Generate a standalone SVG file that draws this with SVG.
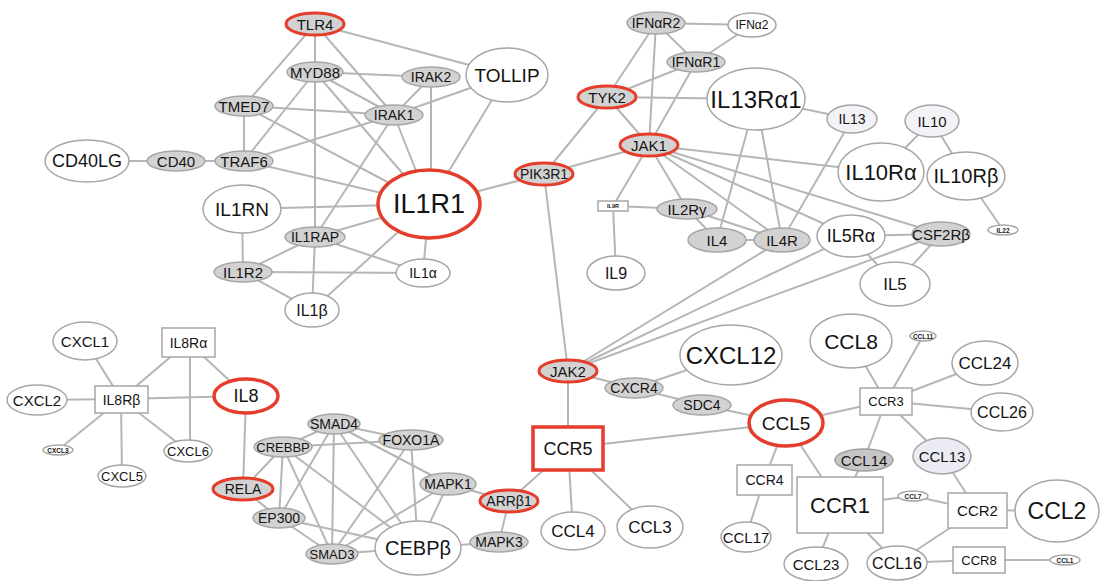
<svg xmlns="http://www.w3.org/2000/svg" width="1100" height="581" viewBox="0 0 1100 581">
<style>
.bg{fill:#fff}
#edges line{stroke:#b6b6b6;stroke-width:2}
.g{fill:#d2d2d2;stroke:#a6a6a6;stroke-width:1.5}
.w{fill:#fff;stroke:#a6a6a6;stroke-width:1.5}
.l{fill:#f3f3f7;stroke:#a6a6a6;stroke-width:1.5}
.lv{fill:#ebebf3;stroke:#a6a6a6;stroke-width:1.5}
.dg{fill:#c6c6c6;stroke:#a0a0a0;stroke-width:1.5}
.r{fill:#d2d2d2;stroke:#e43d2c;stroke-width:3}
.rw{fill:#fff;stroke:#e43d2c;stroke-width:3.5}
text{font-family:"Liberation Sans",Arial,sans-serif;fill:#141414;text-anchor:middle;dominant-baseline:central}
.s5{font-size:5.5px;font-weight:bold}.s6{font-size:6.5px;font-weight:bold}.s12{font-size:12px}.s13{font-size:13px}.s14{font-size:14px}.s15{font-size:15px}.s16{font-size:16px}.s17{font-size:17px}.s18{font-size:18px}.s19{font-size:19px}.s20{font-size:20px}.s21{font-size:21px}.s22{font-size:22px}.s23{font-size:23px}.s24{font-size:24px}.s26{font-size:27px}
</style>
<rect class="bg" x="0" y="0" width="1100" height="581"/>
<g id="edges">
<line x1="315" y1="24" x2="315" y2="72"/>
<line x1="315" y1="72" x2="315" y2="237"/>
<line x1="315" y1="237" x2="312" y2="310"/>
<line x1="315" y1="24" x2="244" y2="106"/>
<line x1="315" y1="24" x2="507" y2="75"/>
<line x1="315" y1="24" x2="394" y2="115"/>
<line x1="244" y1="106" x2="244" y2="161"/>
<line x1="244" y1="106" x2="394" y2="115"/>
<line x1="244" y1="106" x2="429" y2="204"/>
<line x1="244" y1="161" x2="394" y2="115"/>
<line x1="244" y1="161" x2="429" y2="204"/>
<line x1="244" y1="161" x2="176" y2="161"/>
<line x1="176" y1="161" x2="87" y2="161"/>
<line x1="315" y1="72" x2="244" y2="161"/>
<line x1="315" y1="72" x2="431" y2="77"/>
<line x1="315" y1="72" x2="394" y2="115"/>
<line x1="315" y1="72" x2="429" y2="204"/>
<line x1="394" y1="115" x2="429" y2="204"/>
<line x1="431" y1="77" x2="394" y2="115"/>
<line x1="431" y1="77" x2="431" y2="204"/>
<line x1="394" y1="115" x2="507" y2="75"/>
<line x1="507" y1="75" x2="429" y2="204"/>
<line x1="394" y1="115" x2="315" y2="237"/>
<line x1="242" y1="209" x2="429" y2="204"/>
<line x1="242" y1="209" x2="243" y2="272"/>
<line x1="315" y1="237" x2="429" y2="204"/>
<line x1="315" y1="237" x2="243" y2="272"/>
<line x1="315" y1="237" x2="423" y2="273"/>
<line x1="243" y1="272" x2="423" y2="273"/>
<line x1="243" y1="272" x2="312" y2="310"/>
<line x1="312" y1="310" x2="429" y2="204"/>
<line x1="423" y1="273" x2="429" y2="204"/>
<line x1="429" y1="204" x2="544" y2="174"/>
<line x1="544" y1="174" x2="607" y2="97"/>
<line x1="544" y1="174" x2="649" y2="145"/>
<line x1="544" y1="174" x2="568" y2="371"/>
<line x1="607" y1="97" x2="656" y2="23"/>
<line x1="607" y1="97" x2="696" y2="62"/>
<line x1="607" y1="97" x2="756" y2="99"/>
<line x1="607" y1="97" x2="649" y2="145"/>
<line x1="656" y1="23" x2="649" y2="145"/>
<line x1="656" y1="23" x2="696" y2="62"/>
<line x1="656" y1="23" x2="752" y2="25"/>
<line x1="696" y1="62" x2="752" y2="25"/>
<line x1="696" y1="62" x2="649" y2="145"/>
<line x1="649" y1="145" x2="881" y2="172"/>
<line x1="649" y1="145" x2="941" y2="234"/>
<line x1="649" y1="145" x2="851" y2="236"/>
<line x1="649" y1="145" x2="782" y2="240"/>
<line x1="649" y1="145" x2="687" y2="209"/>
<line x1="649" y1="145" x2="613" y2="206"/>
<line x1="756" y1="99" x2="852" y2="119"/>
<line x1="756" y1="99" x2="717" y2="240"/>
<line x1="756" y1="99" x2="782" y2="240"/>
<line x1="852" y1="119" x2="782" y2="240"/>
<line x1="932" y1="121" x2="881" y2="172"/>
<line x1="932" y1="121" x2="966" y2="176"/>
<line x1="966" y1="176" x2="1003" y2="230"/>
<line x1="613" y1="206" x2="687" y2="209"/>
<line x1="613" y1="206" x2="616" y2="273"/>
<line x1="687" y1="209" x2="717" y2="240"/>
<line x1="687" y1="209" x2="782" y2="240"/>
<line x1="717" y1="240" x2="782" y2="240"/>
<line x1="851" y1="236" x2="941" y2="234"/>
<line x1="851" y1="236" x2="895" y2="284"/>
<line x1="941" y1="234" x2="895" y2="284"/>
<line x1="568" y1="371" x2="782" y2="240"/>
<line x1="568" y1="371" x2="851" y2="236"/>
<line x1="568" y1="371" x2="941" y2="234"/>
<line x1="568" y1="371" x2="634" y2="388"/>
<line x1="568" y1="371" x2="568" y2="448"/>
<line x1="634" y1="388" x2="731" y2="355"/>
<line x1="634" y1="388" x2="702" y2="405"/>
<line x1="702" y1="405" x2="786" y2="423"/>
<line x1="568" y1="448" x2="786" y2="423"/>
<line x1="568" y1="448" x2="509" y2="501"/>
<line x1="568" y1="448" x2="573" y2="531"/>
<line x1="568" y1="448" x2="650" y2="527"/>
<line x1="509" y1="501" x2="448" y2="484"/>
<line x1="509" y1="501" x2="499" y2="542"/>
<line x1="499" y1="542" x2="418" y2="548"/>
<line x1="448" y1="484" x2="418" y2="548"/>
<line x1="334" y1="424" x2="448" y2="484"/>
<line x1="411" y1="440" x2="418" y2="548"/>
<line x1="411" y1="440" x2="332" y2="554"/>
<line x1="411" y1="440" x2="283" y2="447"/>
<line x1="334" y1="424" x2="411" y2="440"/>
<line x1="334" y1="424" x2="283" y2="447"/>
<line x1="334" y1="424" x2="279" y2="518"/>
<line x1="334" y1="424" x2="332" y2="554"/>
<line x1="334" y1="424" x2="418" y2="548"/>
<line x1="283" y1="447" x2="243" y2="489"/>
<line x1="283" y1="447" x2="279" y2="518"/>
<line x1="283" y1="447" x2="332" y2="554"/>
<line x1="283" y1="447" x2="418" y2="548"/>
<line x1="243" y1="489" x2="279" y2="518"/>
<line x1="243" y1="489" x2="246" y2="396"/>
<line x1="279" y1="518" x2="332" y2="554"/>
<line x1="279" y1="518" x2="418" y2="548"/>
<line x1="332" y1="554" x2="418" y2="548"/>
<line x1="332" y1="554" x2="448" y2="484"/>
<line x1="246" y1="396" x2="121" y2="399"/>
<line x1="246" y1="396" x2="188" y2="342"/>
<line x1="188" y1="342" x2="121" y2="399"/>
<line x1="190" y1="342" x2="190" y2="451"/>
<line x1="121" y1="399" x2="85" y2="341"/>
<line x1="121" y1="399" x2="37" y2="400"/>
<line x1="121" y1="399" x2="58" y2="450"/>
<line x1="121" y1="399" x2="122" y2="476"/>
<line x1="121" y1="399" x2="188" y2="451"/>
<line x1="786" y1="423" x2="886" y2="401"/>
<line x1="786" y1="423" x2="764" y2="480"/>
<line x1="786" y1="423" x2="840" y2="505"/>
<line x1="886" y1="401" x2="851" y2="341"/>
<line x1="886" y1="401" x2="923" y2="336"/>
<line x1="886" y1="401" x2="985" y2="363"/>
<line x1="886" y1="401" x2="1002" y2="412"/>
<line x1="886" y1="401" x2="864" y2="460"/>
<line x1="886" y1="401" x2="942" y2="456"/>
<line x1="864" y1="460" x2="840" y2="505"/>
<line x1="942" y1="456" x2="977" y2="510"/>
<line x1="840" y1="505" x2="913" y2="496"/>
<line x1="913" y1="496" x2="977" y2="510"/>
<line x1="977" y1="510" x2="1057" y2="511"/>
<line x1="977" y1="510" x2="897" y2="563"/>
<line x1="840" y1="505" x2="816" y2="564"/>
<line x1="840" y1="505" x2="897" y2="563"/>
<line x1="764" y1="480" x2="746" y2="537"/>
<line x1="897" y1="563" x2="979" y2="560"/>
<line x1="979" y1="560" x2="1065" y2="560"/>
</g>
<g id="TLR4"><ellipse class="r" cx="315" cy="24" rx="29" ry="11"/><text class="s15" x="315" y="24">TLR4</text></g>
<g id="MYD88"><ellipse class="g" cx="315" cy="72" rx="28" ry="10"/><text class="s15" x="315" y="72">MYD88</text></g>
<g id="TMED7"><ellipse class="g" cx="244" cy="106" rx="29" ry="10"/><text class="s15" x="244" y="106">TMED7</text></g>
<g id="TRAF6"><ellipse class="g" cx="244" cy="161" rx="29" ry="10"/><text class="s15" x="244" y="161">TRAF6</text></g>
<g id="CD40"><ellipse class="g" cx="176" cy="161" rx="29" ry="10"/><text class="s15" x="176" y="161">CD40</text></g>
<g id="CD40LG"><ellipse class="w" cx="87" cy="161" rx="42" ry="21"/><text class="s18" x="87" y="161">CD40LG</text></g>
<g id="IRAK2"><ellipse class="g" cx="431" cy="77" rx="29" ry="10"/><text class="s14" x="431" y="77">IRAK2</text></g>
<g id="TOLLIP"><ellipse class="w" cx="507" cy="75" rx="41" ry="27"/><text class="s19" x="507" y="75">TOLLIP</text></g>
<g id="IRAK1"><ellipse class="g" cx="394" cy="115" rx="29" ry="10"/><text class="s14" x="394" y="115">IRAK1</text></g>
<g id="IL1R1"><ellipse class="rw" cx="429" cy="204" rx="51" ry="34"/><text class="s26" x="429" y="204">IL1R1</text></g>
<g id="IL1RN"><ellipse class="w" cx="242" cy="209" rx="39" ry="24"/><text class="s19" x="242" y="209">IL1RN</text></g>
<g id="IL1RAP"><ellipse class="g" cx="315" cy="237" rx="30" ry="10"/><text class="s14" x="315" y="237">IL1RAP</text></g>
<g id="IL1R2"><ellipse class="g" cx="243" cy="272" rx="29" ry="10"/><text class="s15" x="243" y="272">IL1R2</text></g>
<g id="IL1b"><ellipse class="w" cx="312" cy="310" rx="27" ry="17"/><text class="s16" x="312" y="310">IL1β</text></g>
<g id="IL1a"><ellipse class="w" cx="423" cy="273" rx="27" ry="14"/><text class="s14" x="423" y="273">IL1α</text></g>
<g id="PIK3R1"><ellipse class="r" cx="544" cy="174" rx="29" ry="11"/><text class="s14" x="544" y="174">PIK3R1</text></g>
<g id="TYK2"><ellipse class="r" cx="607" cy="97" rx="29" ry="11"/><text class="s15" x="607" y="97">TYK2</text></g>
<g id="JAK1"><ellipse class="r" cx="649" cy="145" rx="29" ry="11"/><text class="s15" x="649" y="145">JAK1</text></g>
<g id="IFNaR2"><ellipse class="g" cx="656" cy="23" rx="29" ry="11"/><text class="s14" x="656" y="23">IFNαR2</text></g>
<g id="IFNaR1"><ellipse class="g" cx="696" cy="62" rx="29" ry="10"/><text class="s14" x="696" y="62">IFNαR1</text></g>
<g id="IFNa2"><ellipse class="w" cx="752" cy="25" rx="24" ry="12"/><text class="s12" x="752" y="25">IFNα2</text></g>
<g id="IL13Ra1"><ellipse class="w" cx="756" cy="99" rx="49" ry="31"/><text class="s24" x="756" y="99">IL13Rα1</text></g>
<g id="IL13"><ellipse class="l" cx="852" cy="119" rx="25" ry="14"/><text class="s14" x="852" y="119">IL13</text></g>
<g id="IL10"><ellipse class="l" cx="932" cy="121" rx="27" ry="16"/><text class="s15" x="932" y="121">IL10</text></g>
<g id="IL10Ra"><ellipse class="w" cx="881" cy="172" rx="43" ry="29"/><text class="s22" x="881" y="172">IL10Rα</text></g>
<g id="IL10Rb"><ellipse class="w" cx="966" cy="176" rx="39" ry="24"/><text class="s20" x="966" y="176">IL10Rβ</text></g>
<g id="IL22"><ellipse class="w" cx="1003" cy="230" rx="15" ry="5"/><text class="s6" x="1003" y="230">IL22</text></g>
<g id="CSF2Rb"><ellipse class="g" cx="941" cy="234" rx="29" ry="12"/><text class="s15" x="941" y="234">CSF2Rβ</text></g>
<g id="IL5Ra"><ellipse class="w" cx="851" cy="236" rx="34" ry="21"/><text class="s18" x="851" y="236">IL5Rα</text></g>
<g id="IL5"><ellipse class="w" cx="895" cy="284" rx="35" ry="22"/><text class="s17" x="895" y="284">IL5</text></g>
<g id="IL4R"><ellipse class="g" cx="782" cy="240" rx="28" ry="12"/><text class="s15" x="782" y="240">IL4R</text></g>
<g id="IL4"><ellipse class="g" cx="717" cy="240" rx="29" ry="12"/><text class="s15" x="717" y="240">IL4</text></g>
<g id="IL2Rg"><ellipse class="g" cx="687" cy="209" rx="30" ry="10"/><text class="s15" x="687" y="209">IL2Rγ</text></g>
<g id="IL9R"><rect class="w" x="598" y="201" width="30" height="10"/><text class="s5" x="613" y="206">IL9R</text></g>
<g id="IL9"><ellipse class="w" cx="616" cy="273" rx="29" ry="17"/><text class="s16" x="616" y="273">IL9</text></g>
<g id="JAK2"><ellipse class="r" cx="568" cy="371" rx="29" ry="11"/><text class="s15" x="568" y="371">JAK2</text></g>
<g id="CXCR4"><ellipse class="g" cx="634" cy="388" rx="29" ry="10"/><text class="s14" x="634" y="388">CXCR4</text></g>
<g id="SDC4"><ellipse class="g" cx="702" cy="405" rx="29" ry="10"/><text class="s14" x="702" y="405">SDC4</text></g>
<g id="CXCL12"><ellipse class="w" cx="731" cy="355" rx="51" ry="30"/><text class="s24" x="731" y="355">CXCL12</text></g>
<g id="CCR5"><rect class="rw" x="533" y="427" width="70" height="43"/><text class="s18" x="568" y="448.5">CCR5</text></g>
<g id="CCL4"><ellipse class="w" cx="573" cy="531" rx="32" ry="19"/><text class="s17" x="573" y="531">CCL4</text></g>
<g id="CCL3"><ellipse class="w" cx="650" cy="527" rx="33" ry="21"/><text class="s17" x="650" y="527">CCL3</text></g>
<g id="ARRb1"><ellipse class="r" cx="509" cy="501" rx="29" ry="11"/><text class="s14" x="509" y="501">ARRβ1</text></g>
<g id="MAPK3"><ellipse class="g" cx="499" cy="542" rx="29" ry="10"/><text class="s14" x="499" y="542">MAPK3</text></g>
<g id="MAPK1"><ellipse class="g" cx="448" cy="484" rx="28" ry="11"/><text class="s14" x="448" y="484">MAPK1</text></g>
<g id="FOXO1A"><ellipse class="g" cx="411" cy="440" rx="32" ry="10"/><text class="s14" x="411" y="440">FOXO1A</text></g>
<g id="CEBPb"><ellipse class="w" cx="418" cy="548" rx="43" ry="27"/><text class="s20" x="418" y="548">CEBPβ</text></g>
<g id="SMAD4"><ellipse class="g" cx="334" cy="424" rx="26" ry="10"/><text class="s14" x="334" y="424">SMAD4</text></g>
<g id="CREBBP"><ellipse class="g" cx="283" cy="447" rx="29" ry="10"/><text class="s13" x="283" y="447">CREBBP</text></g>
<g id="RELA"><ellipse class="r" cx="243" cy="489" rx="30" ry="11"/><text class="s14" x="243" y="489">RELA</text></g>
<g id="EP300"><ellipse class="g" cx="279" cy="518" rx="26" ry="10"/><text class="s14" x="279" y="518">EP300</text></g>
<g id="SMAD3"><ellipse class="g" cx="332" cy="554" rx="26" ry="10"/><text class="s13" x="332" y="554">SMAD3</text></g>
<g id="IL8"><ellipse class="rw" cx="246" cy="396" rx="32" ry="17"/><text class="s18" x="246" y="396">IL8</text></g>
<g id="IL8Rb"><rect class="w" x="95" y="386" width="53" height="27"/><text class="s14" x="121.5" y="399.5">IL8Rβ</text></g>
<g id="IL8Ra"><rect class="w" x="162" y="328" width="53" height="29"/><text class="s14" x="188.5" y="342.5">IL8Rα</text></g>
<g id="CXCL1"><ellipse class="w" cx="85" cy="341" rx="32" ry="19"/><text class="s15" x="85" y="341">CXCL1</text></g>
<g id="CXCL2"><ellipse class="w" cx="37" cy="400" rx="30" ry="15"/><text class="s15" x="37" y="400">CXCL2</text></g>
<g id="CXCL3"><ellipse class="w" cx="58" cy="450" rx="15" ry="5"/><text class="s6" x="58" y="450">CXCL3</text></g>
<g id="CXCL5"><ellipse class="w" cx="122" cy="476" rx="24" ry="11"/><text class="s13" x="122" y="476">CXCL5</text></g>
<g id="CXCL6"><ellipse class="w" cx="188" cy="451" rx="24" ry="11"/><text class="s13" x="188" y="451">CXCL6</text></g>
<g id="CCL8"><ellipse class="w" cx="851" cy="341" rx="41" ry="27"/><text class="s21" x="851" y="341">CCL8</text></g>
<g id="CCL11"><ellipse class="w" cx="923" cy="336" rx="13" ry="5"/><text class="s6" x="923" y="336">CCL11</text></g>
<g id="CCL24"><ellipse class="w" cx="985" cy="363" rx="33" ry="22"/><text class="s17" x="985" y="363">CCL24</text></g>
<g id="CCR3"><rect class="w" x="860" y="388" width="52" height="27"/><text class="s13" x="886" y="401.5">CCR3</text></g>
<g id="CCL26"><ellipse class="w" cx="1002" cy="412" rx="31" ry="19"/><text class="s16" x="1002" y="412">CCL26</text></g>
<g id="CCL5"><ellipse class="rw" cx="786" cy="423" rx="37" ry="23"/><text class="s19" x="786" y="423">CCL5</text></g>
<g id="CCL14"><ellipse class="dg" cx="864" cy="460" rx="29" ry="11"/><text class="s15" x="864" y="460">CCL14</text></g>
<g id="CCL13"><ellipse class="lv" cx="942" cy="456" rx="29" ry="18"/><text class="s15" x="942" y="456">CCL13</text></g>
<g id="CCR4"><rect class="w" x="737" y="465" width="55" height="30"/><text class="s14" x="764.5" y="480">CCR4</text></g>
<g id="CCR1"><rect class="w" x="797" y="477" width="86" height="56"/><text class="s22" x="840" y="505">CCR1</text></g>
<g id="CCL7"><ellipse class="w" cx="913" cy="496" rx="15" ry="5"/><text class="s6" x="913" y="496">CCL7</text></g>
<g id="CCR2"><rect class="w" x="948" y="493" width="59" height="35"/><text class="s15" x="977.5" y="510.5">CCR2</text></g>
<g id="CCL2"><ellipse class="w" cx="1057" cy="511" rx="42" ry="31"/><text class="s23" x="1057" y="511">CCL2</text></g>
<g id="CCL17"><ellipse class="w" cx="746" cy="537" rx="25" ry="15"/><text class="s15" x="746" y="537">CCL17</text></g>
<g id="CCL23"><ellipse class="w" cx="816" cy="564" rx="32" ry="17"/><text class="s15" x="816" y="564">CCL23</text></g>
<g id="CCL16"><ellipse class="w" cx="897" cy="563" rx="30" ry="17"/><text class="s16" x="897" y="563">CCL16</text></g>
<g id="CCR8"><rect class="w" x="953" y="547" width="52" height="26"/><text class="s13" x="979" y="560">CCR8</text></g>
<g id="CCL1"><ellipse class="w" cx="1065" cy="560" rx="15" ry="5"/><text class="s6" x="1065" y="560">CCL1</text></g>
</svg>
